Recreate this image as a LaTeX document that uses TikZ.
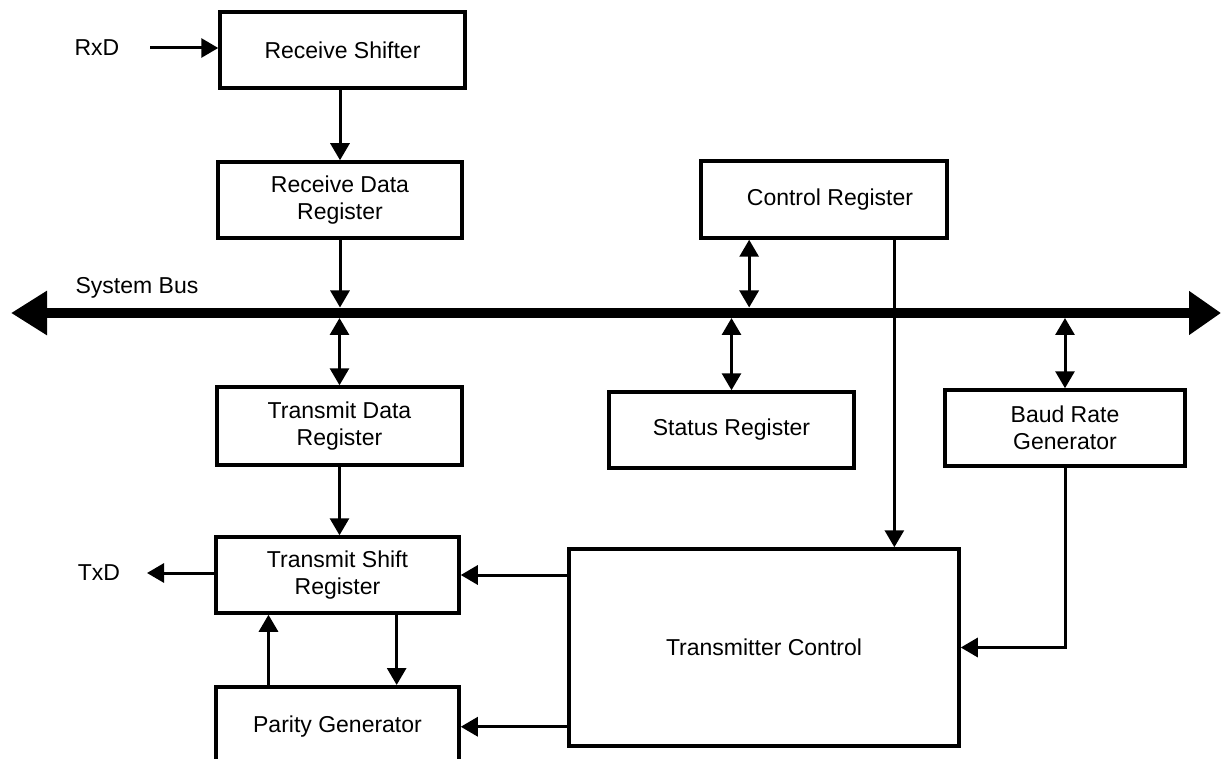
\documentclass[tikz,border=0pt]{standalone}
\usepackage{fontspec}
\setmainfont{Liberation Sans}
\usetikzlibrary{arrows.meta,calc}
\begin{document}
\begin{tikzpicture}[x=1pt,y=-1pt,
  font=\fontsize{23}{27.5}\selectfont,
  box/.style={draw,line width=3.5pt,align=center,inner sep=0pt},
  conn/.style={line width=3pt},
  arr/.style={conn,-{Triangle[length=17pt,width=19pt]}},
  darr/.style={conn,{Triangle[length=17pt,width=19pt]}-{Triangle[length=17pt,width=19pt]}},
  lbl/.style={inner sep=0pt}]
\useasboundingbox (0,0) rectangle (1221,759);
\clip (0,0) rectangle (1221,759);
% boxes
\node[box,minimum width=245pt,minimum height=76pt] (RS) at (342.5,50) {Receive Shifter};
\node[box,minimum width=244pt,minimum height=76pt] (RDR) at (340,200) {Receive Data\\Register};
\node[box,minimum width=246pt,minimum height=77pt] (CR) at (824,199.5) {\hspace*{12pt}Control Register};
\node[box,minimum width=245pt,minimum height=78pt] (TDR) at (339.5,426) {Transmit Data\\Register};
\node[box,minimum width=245pt,minimum height=76pt] (SR) at (731.5,430) {Status Register};
\node[box,minimum width=240pt,minimum height=76pt] (BRG) at (1065,428) {Baud Rate\\Generator};
\node[box,minimum width=243pt,minimum height=76pt] (TSR) at (337.5,575) {Transmit Shift\\Register};
\node[box,minimum width=390pt,minimum height=197pt] (TC) at (764,647.5) {Transmitter Control};
\node[box,minimum width=243pt,minimum height=80pt,anchor=north] (PG) at (337.5,685) {Parity Generator};
% labels
\node[lbl] (rxd) at (97,48) {RxD};
\node[lbl] (txd) at (99,573) {TxD};
\node[lbl] (sbus) at (137,288) {System Bus};
% bus
\coordinate (busL) at (11,313);
\coordinate (busR) at (1221,313);
\coordinate (bt) at (0,307.5);
\coordinate (bb) at (0,318);
\draw[line width=10pt,{Triangle[length=36pt,width=42pt]}-{Triangle[length=32pt,width=42pt]}] (busL) -- (busR);
% connectors
\coordinate (rxdS) at (150,48);
\draw[arr] (rxdS) -- (RS.west |- rxdS);
\draw[arr] (RS.south -| RDR.north) -- (RDR.north);
\draw[arr] (RDR.south) -- (RDR.south |- bt);
\draw[darr] (TDR.north |- bb) -- (TDR.north);
\coordinate (crA) at ($(CR.south west)!0.2!(CR.south east)$);
\coordinate (crB) at ($(CR.south west)!0.782!(CR.south east)$);
\draw[darr] (crA) -- (crA |- bt);
\draw[arr] (crB) -- (crB |- TC.north);
\draw[darr] (SR.north |- bb) -- (SR.north);
\draw[darr] (BRG.north |- bb) -- (BRG.north);
\draw[arr] (BRG.south) |- (TC.east);
\draw[arr] (TDR.south) -- (TDR.south |- TSR.north);
\draw[arr] (TC.west |- TSR.east) -- (TSR.east);
\draw[arr] (TC.west |- PG.east) -- (PG.east);
\coordinate (txdE) at (147,573);
\draw[arr] (TSR.west |- txdE) -- (txdE);
\coordinate (tsrA) at ($(TSR.south west)!0.74!(TSR.south east)$);
\coordinate (tsrB) at ($(TSR.south west)!0.22!(TSR.south east)$);
\draw[arr] (tsrA) -- (tsrA |- PG.north);
\draw[arr] (tsrB |- PG.north) -- (tsrB);
\end{tikzpicture}
\end{document}
